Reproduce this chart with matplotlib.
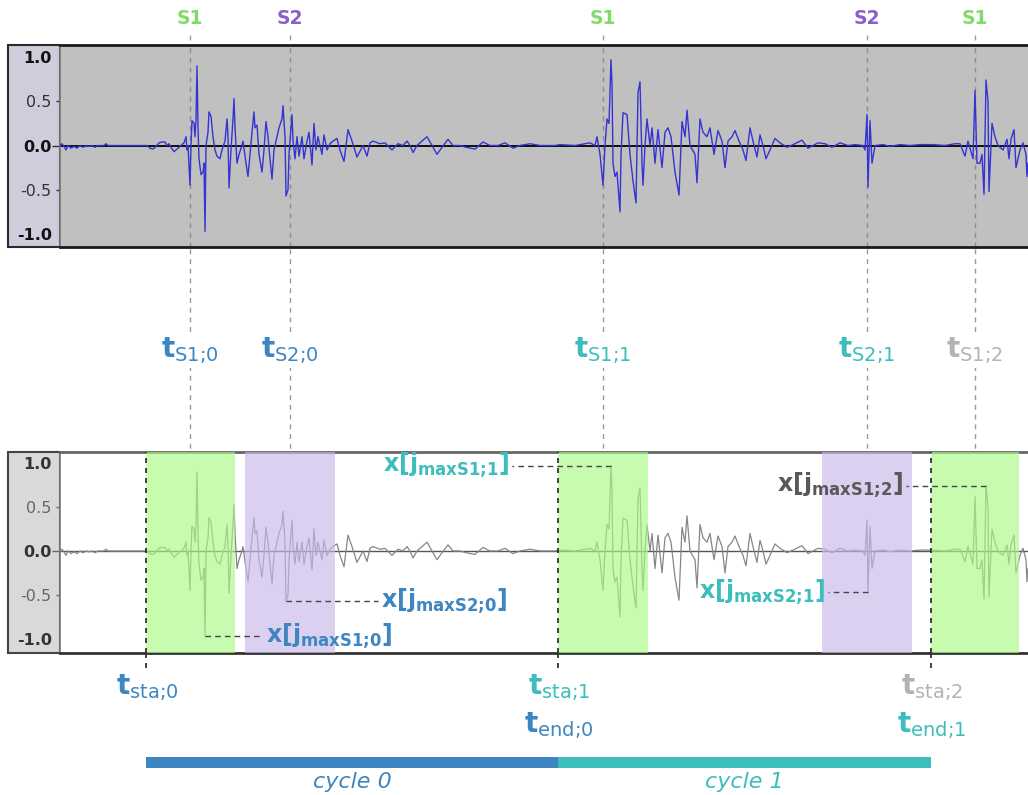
import numpy as np
import matplotlib.pyplot as plt
from matplotlib.patches import Rectangle

plt.rcParams['mathtext.fontset'] = 'dejavusans'

# heart sound: time in ms, amplitude -1..1
t_ms = [0, 4, 8, 12, 16, 22, 28, 34, 40, 46, 52, 58, 64, 70, 76, 88, 92, 96, 174,
        180, 186, 192, 198, 204, 210, 214, 218, 222, 228, 232, 238, 244, 248, 252, 254,
        256, 260, 262, 264, 268, 270, 272, 274, 276, 278, 282, 286, 288, 290, 292, 296,
        298, 302, 306, 310, 314, 320, 324, 330, 334, 336, 338, 342, 346, 348, 350, 354,
        358, 364, 366, 372, 376, 380, 384, 388, 390, 394, 398, 404, 408, 412, 416, 420,
        424, 428, 434, 438, 444, 446, 450, 452, 456, 458, 464, 466, 470, 474, 478, 484,
        488, 494, 498, 504, 508, 512, 516, 524, 528, 534, 540, 546, 554, 560, 568, 576,
        584, 594, 606, 614, 620, 626, 640, 650, 664, 676, 686, 694, 700, 706, 714, 724,
        734, 744, 754, 764, 776, 786, 800, 812, 830, 838, 846, 860, 876, 890, 898, 906,
        920, 940, 960, 990, 1000, 1030, 1060, 1070, 1074, 1080,
        1086, 1090, 1094, 1098, 1102, 1104, 1106, 1110, 1114, 1120, 1122, 1126, 1134,
        1140, 1146, 1152, 1156, 1160, 1164, 1166, 1170, 1174, 1180, 1184, 1190, 1196,
        1204, 1210, 1216, 1222, 1230, 1238, 1244, 1250, 1254, 1260, 1270, 1274, 1280,
        1286, 1294, 1300, 1308, 1316, 1324, 1330, 1336, 1344, 1350, 1358, 1366, 1372,
        1380, 1386, 1394, 1400, 1406, 1412, 1420, 1430, 1440, 1454, 1466, 1484, 1496,
        1516, 1530, 1544, 1560, 1576, 1590, 1606, 1610, 1614, 1616, 1620, 1624, 1630,
        1646, 1660, 1680, 1700, 1720, 1746, 1770, 1790, 1800, 1810, 1816, 1826, 1830,
        1834, 1840, 1844, 1848, 1852, 1856, 1858, 1864, 1870, 1876, 1886, 1894, 1898,
        1902, 1908, 1912, 1920, 1926, 1932, 1934, 1936]
amp = [0.0, 0.02, -0.01, -0.05, 0.0, -0.03, -0.01, -0.03, 0.0, -0.02, 0.0, -0.01, 0.0, -0.02, 0.0, 0.0, 0.02, 0.0, 0.0,
       -0.03, -0.04, -0.01, 0.03, 0.04, 0.04, 0.0, 0.02, -0.02, -0.07, -0.05, -0.02, 0.01, 0.03, 0.1, -0.05,
       0.0, -0.45, 0.0, 0.28, 0.25, 0.1, 0.3, 0.9, 0.2, -0.15, -0.33, -0.3, -0.2, -0.97, 0.0, 0.15,
       0.38, 0.33, 0.1, -0.05, -0.12, -0.15, -0.05, 0.05, 0.3, 0.1, -0.48, -0.05, 0.3, 0.53, 0.2, -0.2,
       -0.1, 0.0, 0.05, -0.2, -0.35, -0.1, 0.15, 0.38, 0.2, 0.23, -0.1, -0.3, -0.05, 0.27, 0.1, -0.15,
       -0.38, -0.05, 0.1, 0.2, 0.3, 0.45, 0.1, -0.57, -0.5, -0.1, 0.35, 0.05, -0.15, 0.1, -0.12, 0.1,
       -0.15, 0.05, 0.15, -0.22, 0.25, -0.05, 0.1, -0.1, 0.12, -0.05, 0.02, 0.05, 0.08, -0.05, -0.18, 0.18,
       0.05, -0.13, 0.0, -0.12, 0.03, 0.05, 0.02, 0.03, -0.05, 0.02, 0.0, 0.05, 0.0, -0.08, 0.0, 0.05,
       0.1, 0.0, -0.1, -0.02, 0.07, 0.0, 0.0, -0.02, -0.04, 0.0, 0.04, 0.0, 0.0, 0.03, 0.0, -0.03,
       0.0, 0.02, 0.0, 0.0, 0.01, 0.0, 0.03, 0.0, 0.1, -0.1,
       -0.45, 0.0, 0.3, 0.25, 0.97, 0.7, -0.2, -0.35, -0.3, -0.75, -0.1, 0.37, 0.35,
       -0.1, -0.4, -0.65, 0.6, 0.72, -0.2, -0.45, 0.0, 0.3, 0.0, 0.2, -0.2, 0.18,
       -0.25, 0.15, 0.2, 0.1, -0.3, -0.56, 0.27, 0.1, 0.4, 0.0, -0.1, -0.42, 0.3,
       0.15, 0.1, 0.2, -0.1, 0.17, 0.05, -0.25, 0.05, 0.1, 0.17, 0.05, -0.05, -0.17,
       0.2, 0.05, -0.13, 0.12, 0.0, -0.15, -0.05, 0.08, 0.03, -0.02, 0.01, 0.06, -0.03,
       0.03, 0.02, -0.02, 0.03, 0.0, 0.01, 0.0, -0.05, 0.35, -0.47, 0.28, -0.2, 0.0,
       0.01, -0.01, 0.01, 0.0, 0.01, 0.01, 0.0, 0.02, 0.02, -0.12, 0.05, -0.15, 0.62,
       -0.2, -0.2, -0.1, -0.55, 0.74, 0.5, -0.52, 0.25, 0.1, 0.0, -0.05, 0.07, -0.15,
       0.07, 0.18, -0.25, -0.05, 0.03, -0.1, -0.35, -0.2]

# marked heart sounds
event_ms = [260, 460, 1086, 1614, 1830]
event_kind = ['S1', 'S2', 'S1', 'S2', 'S1']
event_sub = ['S1;0', 'S2;0', 'S1;1', 'S2;1', 'S1;2']
event_cycle = [0, 0, 1, 1, 2]

# segmentation
cycle_start = [172, 996, 1742]
s1_win = [(172, 350), (996, 1176), (1742, 1918)]
s2_win = [(370, 550), (1524, 1704)]

blue, teal, grey = '#3e86c1', '#3dbdbb', '#b3b3b3'
cycle_col = [blue, teal, grey]
kind_col = {'S1': '#80dc68', 'S2': '#8b5fc9'}

t = np.array(t_ms)
x = np.array(amp)

W, H = 1028, 795
fig = plt.figure(figsize=(W / 100, H / 100), dpi=100)

# background layer: x in ms, y in pixels
bg = fig.add_axes([0, 0, 1, 1], zorder=-1)
bg.set_xlim(-120, 1936)
bg.set_ylim(H, 0)
bg.axis('off')


def panel(top, bottom):
    return fig.add_axes([60 / W, 1 - bottom / H, 968 / W, (bottom - top) / H])


def sub(s):
    # greek question mark looks like ';' but gets no punctuation space in mathtext
    return s.replace(';', '\u037e')


ax1 = panel(45, 247)
ax2 = panel(452, 653)
ax1.set_ylim(-1.147, 1.136)
ax2.set_ylim(-1.16, 1.125)


def style(ax, face, strong, weak, top_c, bot_c):
    ax.set_facecolor(face)
    ax.set_xlim(0, 1936)
    ax.set_xticks([])
    ax.set_yticks([-1, -0.5, 0, 0.5, 1])
    ax.set_yticklabels(['-1.0', '-0.5', '0.0', '0.5', '1.0'])
    ax.tick_params(axis='y', length=3, width=1, pad=3, labelsize=11.5, color=weak)
    for i, lab in enumerate(ax.get_yticklabels()):
        bold = i in (0, 2, 4)
        lab.set_fontweight('bold' if bold else 'normal')
        lab.set_color(strong if bold else weak)
    ticks = ax.yaxis.get_major_ticks()
    ticks[0].tick1line.set_visible(False)
    ticks[4].tick1line.set_visible(False)
    ticks[2].tick1line.set_markersize(6)
    ticks[2].tick1line.set_color(strong)
    ax.spines['right'].set_visible(False)
    ax.spines['top'].set_color(top_c)
    ax.spines['top'].set_linewidth(2)
    ax.spines['bottom'].set_color(bot_c)
    ax.spines['bottom'].set_linewidth(2)
    ax.spines['left'].set_color('#7a7a7a')
    ax.spines['left'].set_linewidth(1.2)


style(ax1, '#c0c0c0', '#111111', '#333333', '#1a1a1a', '#1a1a1a')
style(ax2, 'white', '#333333', '#666666', '#666666', '#333333')

# label strips left of the panels
bg.add_patch(Rectangle((-104, 45), 104, 202, facecolor='#cdcddb', edgecolor='#2a2a2a', lw=1.5))
bg.add_patch(Rectangle((-104, 452), 104, 201, facecolor='#d9d9d9', edgecolor='#444444', lw=1.5))

# top panel: raw waveform
ax1.axhline(0, color='black', lw=1.3, zorder=2)
ax1.plot(t, x, color='#3434d2', lw=1, zorder=3)
for e in event_ms:
    ax1.axvline(e, color='#8c8c8c', lw=1, ls=(0, (3.5, 3.5)), zorder=1)

# bottom panel: segmented waveform
ax2.axhline(0, color='#555555', lw=1, zorder=1)
ax2.plot(t, x, color='#868686', lw=0.9, zorder=2)
for a, b in s1_win:
    ax2.axvspan(a, b, color='#a9fa86', alpha=0.65, lw=0, zorder=3)
for a, b in s2_win:
    ax2.axvspan(a, b, color='#c8b8e8', alpha=0.65, lw=0, zorder=3)
for c in cycle_start:
    ax2.axvline(c, color='#222222', lw=1.2, ls=(0, (3, 3)), zorder=4)

# peak of each window -> x[j_max]
windows = [s1_win[0], s2_win[0], s1_win[1], s2_win[1], s1_win[2]]
label_end = [406, 636, 904, 1536, 1692]
label_side = ['left', 'left', 'right', 'right', 'right']
label_col = [blue, blue, teal, teal, '#595959']
for (a, b), s, lx, side, col in zip(windows, event_sub, label_end, label_side, label_col):
    idx = np.where((t >= a) & (t <= b))[0]
    j = idx[np.argmax(np.abs(x[idx]))]
    ax2.plot([t[j], lx], [x[j], x[j]], color='#444444', lw=1, ls=(0, (4, 3)), zorder=5)
    gap = 6 if side == 'left' else -6
    ax2.text(lx + gap, x[j], r'$\mathbf{x[j_{max%s}]}$' % sub(s), color=col, fontsize=17,
             ha=side, va='center', zorder=6)

# event markers across the figure
bg.vlines(event_ms, 35, 452, color='#9a9a9a', lw=1, ls=(0, (3.5, 3.5)), zorder=1)
for e, k, s, c in zip(event_ms, event_kind, event_sub, event_cycle):
    bg.text(e, 18, k, color=kind_col[k], fontsize=13.5, fontweight='bold', ha='center', va='center')
    bg.text(e, 351, r'$\mathbf{t}_{\mathrm{%s}}$' % sub(s), color=cycle_col[c], fontsize=20,
            ha='center', va='center', zorder=3,
            bbox=dict(facecolor='white', edgecolor='none', pad=1))

# cycle boundaries
bg.vlines(cycle_start, 653, 668, color='#222222', lw=1.2, ls=(0, (3, 3)))
for i, c in enumerate(cycle_start):
    bg.text(c + 2, 688, r'$\mathbf{t}_{\mathrm{%s}}$' % sub('sta;%d' % i), color=cycle_col[i],
            fontsize=20, ha='center', va='center')
    if i > 0:
        bg.text(c + 2, 726, r'$\mathbf{t}_{\mathrm{%s}}$' % sub('end;%d' % (i - 1)),
                color=cycle_col[i - 1], fontsize=20, ha='center', va='center')

starts = cycle_start[:-1]
widths = np.diff(cycle_start)
bg.barh([762.5, 762.5], widths, left=starts, height=11, color=[blue, teal])
for i, (s, w) in enumerate(zip(starts, widths)):
    bg.text(s + w / 2, 782, 'cycle %d' % i, color=cycle_col[i], fontsize=16,
            style='italic', ha='center', va='center')

fig.savefig('out.png', dpi=100)
